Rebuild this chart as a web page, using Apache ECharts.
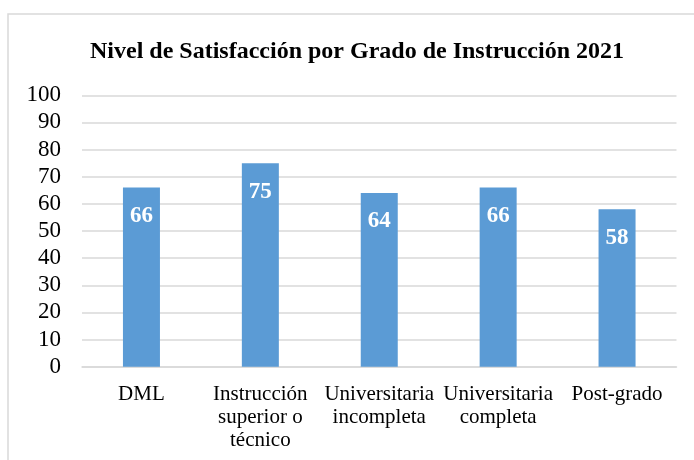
<!DOCTYPE html>
<html>
<head>
<meta charset="utf-8">
<script src="https://cdn.jsdelivr.net/npm/echarts@6/dist/echarts.min.js"></script>
<style>
html, body { margin: 0; padding: 0; background: #fff; }
#chart { width: 694px; height: 460px; }
</style>
</head>
<body>
<div id="chart"></div>
<script>
var categories = ['DML', 'Instrucción\nsuperior o\ntécnico', 'Universitaria\nincompleta', 'Universitaria\ncompleta', 'Post-grado'];
var values = [66, 75, 64, 66, 58];
var yTicks = { min: 0, max: 100, interval: 10 };

var chart = echarts.init(document.getElementById('chart'));
var option = {
    animation: false,
    backgroundColor: '#fff',
    graphic: [{
        type: 'rect',
        shape: { x: 8, y: 14, width: 700, height: 460 },
        style: { fill: 'none', stroke: '#d9d9d9', lineWidth: 1.5 }
    }],
    title: {
        text: 'Nivel de Satisfacción por Grado de Instrucción 2021',
        left: 352,
        top: 35,
        textAlign: 'center',
        textStyle: {
            fontFamily: 'Liberation Serif',
            fontWeight: 'bold',
            fontSize: 24,
            color: '#000'
        }
    },
    grid: { left: 82, right: 17.5, top: 95.3, bottom: 93.3, containLabel: false },
    xAxis: {
        type: 'category',
        data: categories,
        axisLine: { show: true, lineStyle: { color: '#d9d9d9', width: 1.5 } },
        axisTick: { show: false },
        axisLabel: {
            interval: 0,
            margin: 16,
            fontFamily: 'Liberation Serif',
            fontSize: 21,
            lineHeight: 23,
            color: '#000'
        }
    },
    yAxis: {
        type: 'value',
        min: yTicks.min,
        max: yTicks.max,
        interval: yTicks.interval,
        axisLine: { show: false },
        axisTick: { show: false },
        splitLine: { lineStyle: { color: '#d9d9d9', width: 1.5 } },
        axisLabel: {
            margin: 21,
            fontFamily: 'Liberation Serif',
            fontSize: 23,
            color: '#000'
        }
    },
    series: [{
        type: 'bar',
        data: values,
        barWidth: 37,
        itemStyle: { color: '#5B9BD5' },
        label: {
            show: true,
            position: 'insideTop',
            distance: 17,
            color: '#fff',
            fontFamily: 'Liberation Serif',
            fontWeight: 'bold',
            fontSize: 23
        }
    }]
};
chart.setOption(option);
window.addEventListener('resize', chart.resize);
</script>
</body>
</html>
